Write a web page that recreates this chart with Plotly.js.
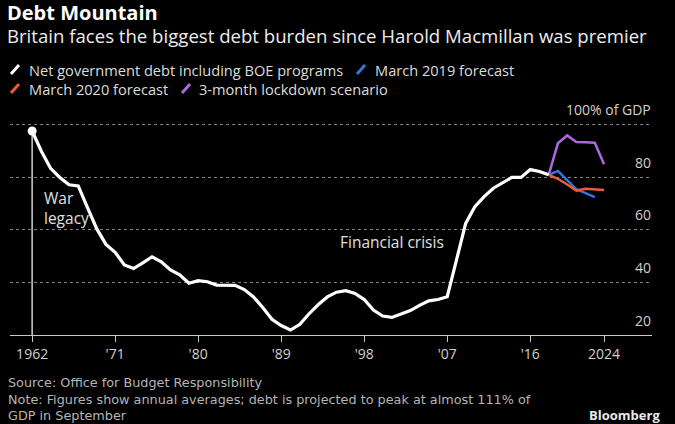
<!DOCTYPE html>
<html><head><meta charset="utf-8">
<script src="https://cdn.plot.ly/plotly-3.0.1.min.js"></script>
<style>html,body{margin:0;padding:0;background:#000;}#chart{width:675px;height:424px;}</style>
</head><body><div id="chart"></div>
<script>
// ---- data ----
const years = [1962,1963,1964,1965,1966,1967,1968,1969,1970,1971,1972,1973,1974,1975,1976,1977,1978,1979,1980,1981,1982,1983,1984,1985,1986,1987,1988,1989,1990,1991,1992,1993,1994,1995,1996,1997,1998,1999,2000,2001,2002,2003,2004,2005,2006,2007,2008,2009,2010,2011,2012,2013,2014,2015,2016,2017,2018];
const netDebt = [97.7,90.0,83.5,80.0,77.2,76.8,68.5,60.5,54.5,51.5,46.7,45.3,47.5,49.8,47.9,44.8,42.9,39.7,40.7,40.3,39.0,39.0,38.9,37.3,34.5,30.5,26.0,23.6,21.9,24.0,28.0,31.5,34.5,36.3,36.9,35.8,33.5,29.5,27.2,26.7,28.0,29.3,31.3,33.0,33.5,34.6,48.5,62.5,68.9,72.7,75.9,77.8,80.0,80.0,83.0,82.3,81.0];
const years2019 = [2018,2019,2020,2021,2022,2023];
const forecast2019 = [81.0,82.5,79.0,75.5,74.0,72.5];
const years2020 = [2018,2019,2020,2021,2022,2023,2024];
const forecast2020 = [81.0,79.5,77.3,75.0,75.7,75.5,75.2];
const yearsLockdown = [2018,2019,2020,2021,2022,2023,2024];
const lockdown = [81.0,93.0,96.0,93.5,93.4,93.2,85.0];
const xTickVals = [1962,1971,1980,1989,1998,2007,2016,2024];
const xTickText = ['1962',"'71","'80","'89","'98","'07","'16",'2024'];
const yTickVals = [20,40,60,80,100];
const yTickText = ['20','40','60','80','100% of GDP'];
const seriesNames = ['Net government debt including BOE programs','March 2019 forecast','March 2020 forecast','3-month lockdown scenario'];
const seriesColors = ['#ffffff','#2f78dc','#ee5a3c','#a96ae0'];

// ---- layout helpers (pixel -> paper) ----
const W = 675, H = 424, L = 10, R = 23, T = 100, B = 89;
const pw = W - L - R, ph = H - T - B;
const px = v => (v - L) / pw;
const py = v => (H - B - v) / ph;
const FONT = '"Open Sans", Roboto, sans-serif';

const traces = [
  {x: yearsLockdown, y: lockdown, name: seriesNames[3], mode: 'lines', line: {color: seriesColors[3], width: 2.5}},
  {x: years2019, y: forecast2019, name: seriesNames[1], mode: 'lines', line: {color: seriesColors[1], width: 2.5}},
  {x: years2020, y: forecast2020, name: seriesNames[2], mode: 'lines', line: {color: seriesColors[2], width: 2.5}},
  {x: years, y: netDebt, name: seriesNames[0], mode: 'lines', line: {color: seriesColors[0], width: 3.2}},
  {x: [years[0]], y: [netDebt[0]], mode: 'markers', marker: {color: '#fff', size: 9}, showlegend: false, hoverinfo: 'skip'}
];

function legendItem(xPix, textPix, yPix, color, text) {
  return {
    shape: {type: 'line', xref: 'paper', yref: 'paper', x0: px(xPix), y0: py(yPix + 4.5), x1: px(xPix + 8), y1: py(yPix - 4.5), line: {color: color, width: 3}},
    ann: {xref: 'paper', yref: 'paper', x: px(textPix), y: py(yPix), xanchor: 'left', yanchor: 'middle', borderpad: 0, text: text, showarrow: false, font: {family: FONT, size: 14.6, color: '#dcdcdc'}}
  };
}
const legendItems = [
  legendItem(11, 28, 69.5, seriesColors[0], seriesNames[0]),
  legendItem(357, 374, 69.5, seriesColors[1], seriesNames[1]),
  legendItem(11, 28, 88.5, seriesColors[2], seriesNames[2]),
  legendItem(182, 198, 88.5, seriesColors[3], seriesNames[3])
];

const shapes = [
  {type: 'line', xref: 'x', yref: 'y', x0: years[0], x1: years[0], y0: netDebt[0], y1: yTickVals[0], line: {color: '#d0d0d0', width: 1.5}, layer: 'below'}
].concat(legendItems.map(d => d.shape));

const yLabels = yTickVals.map((v, i) => ({
  xref: 'paper', yref: 'y', x: px(652), y: v, xanchor: 'right', yanchor: 'middle', yshift: 15, showarrow: false, borderpad: 0,
  text: yTickText[i], font: {family: FONT, size: 14, color: '#d0d0d0'}
}));

const annotations = [
  {xref: 'x', yref: 'y', x: 1963.1, y: 68.4, xanchor: 'left', yanchor: 'middle', align: 'left', showarrow: false,
   text: 'War<br>legacy', font: {family: FONT, size: 15.5, color: '#e0e0e0'}},
  {xref: 'x', yref: 'y', x: 1995.2, y: 55.5, xanchor: 'left', yanchor: 'middle', showarrow: false,
   text: 'Financial crisis', font: {family: FONT, size: 15.5, color: '#e0e0e0'}},
  {xref: 'paper', yref: 'paper', x: px(7), y: py(399), xanchor: 'left', yanchor: 'middle', align: 'left', showarrow: false, borderpad: 0,
   text: 'Source: Office for Budget Responsibility<br>Note: Figures show annual averages; debt is projected to peak at almost 111% of<br>GDP in September',
   font: {family: '"DejaVu Sans", sans-serif', size: 12.8, color: '#b4b4b4'}},
  {xref: 'paper', yref: 'paper', x: px(661), y: py(414.5), xanchor: 'right', yanchor: 'middle', showarrow: false, borderpad: 0,
   text: '<b>Bloomberg</b>', font: {family: FONT, size: 13, color: '#e8e8e8'}}
].concat(yLabels, legendItems.map(d => d.ann));

const layout = {
  width: W, height: H,
  paper_bgcolor: '#000', plot_bgcolor: '#000',
  margin: {l: L, r: R, t: T, b: B},
  showlegend: false,
  title: {text: '<span style="font-size:20px"><b>Debt Mountain</b></span><br><span style="color:#ececec;font-size:18.6px">Britain faces the biggest debt burden since Harold Macmillan was premier</span>',
          x: 7 / W, xanchor: 'left', xref: 'container', y: 1 - 20 / H, yanchor: 'top', yref: 'container',
          font: {family: FONT, size: 18, color: '#ffffff'}},
  xaxis: {range: [1959.6, 2029.2], tickvals: xTickVals, ticktext: xTickText, ticks: 'outside', ticklen: 6, tickwidth: 1, tickcolor: '#c8c8c8',
          showline: true, linecolor: '#c8c8c8', linewidth: 1, showgrid: false, zeroline: false,
          tickfont: {family: FONT, size: 14, color: '#d0d0d0'}},
  yaxis: {range: [20, 109.5], side: 'right', tickvals: yTickVals, showticklabels: false,
          showgrid: true, gridcolor: '#808080', griddash: 'dot', gridwidth: 1, zeroline: false, showline: false, ticks: ''},
  shapes: shapes,
  annotations: annotations
};

Plotly.newPlot('chart', traces, layout, {displayModeBar: false, staticPlot: true});
</script>
</body></html>
